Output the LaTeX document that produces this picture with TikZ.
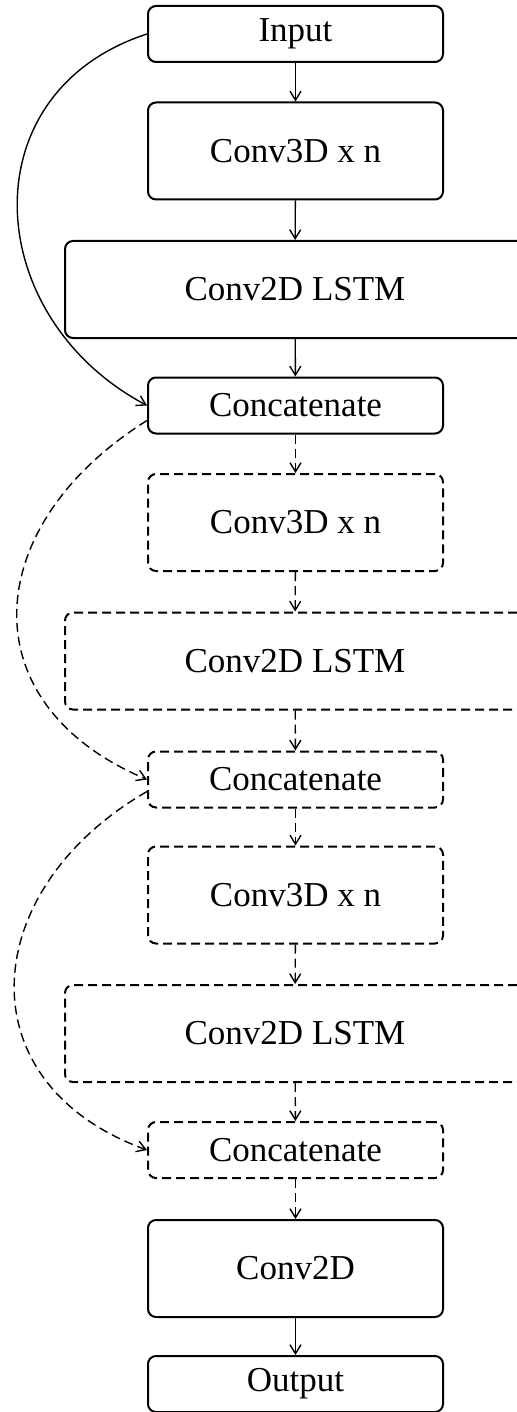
\documentclass[tikz,border=0pt]{standalone}
\usepackage{fontspec}
\setmainfont{Liberation Serif}
\usetikzlibrary{arrows.meta}

\begin{document}
\begin{tikzpicture}[x=0.5pt,y=0.5pt,>={Straight Barb[length=4.5pt,width=5.5pt]},line width=0.7pt,
	main node/.style={rectangle,rounded corners=4pt,draw,line width=1pt,inner sep=0pt,minimum width=147.5pt,minimum height=28pt,font=\fontsize{17.5}{20}\selectfont},
	tall node/.style={main node,minimum height=48.5pt},
	wide node/.style={tall node,minimum width=230pt},
	dash node/.style={dash pattern=on 4.5pt off 2.5pt}]
		
		\useasboundingbox (0,0) rectangle (517,-1412);
		
		\node[main node] at (295.5,-34) (input) {Input};
		\node[tall node] at (295.5,-151) (conv3a) {Conv3D x n};
		\node[wide node] at (295,-289.5) (lstma) {Conv2D LSTM};
		\node[main node] at (295.5,-405.5) (cata) {Concatenate};
		
		\node[tall node,dash node] at (295.5,-522.5) (conv3b) {Conv3D x n};
		\node[wide node,dash node] at (295,-661) (lstmb) {Conv2D LSTM};
		\node[main node,dash node] at (295.5,-779.5) (catb) {Concatenate};
		
		\node[tall node,dash node] at (295.5,-895) (conv3c) {Conv3D x n};
		\node[wide node,dash node] at (295,-1033.5) (lstmc) {Conv2D LSTM};
		\node[main node,dash node] at (295.5,-1150) (catc) {Concatenate};
		
		\node[tall node] at (295.5,-1268.5) (conv2) {Conv2D};
		\node[main node] at (295.5,-1384) (output) {Output};
		
		\path[->]
		(input) edge (conv3a)
		(conv3a) edge (lstma)
		(lstma) edge (cata)
		(cata) edge[dash node] (conv3b)
		(conv3b) edge[dash node] (lstmb)
		(lstmb) edge[dash node] (catb)
		(catb) edge[dash node] (conv3c)
		(conv3c) edge[dash node] (lstmc)
		(lstmc) edge[dash node] (catc)
		(catc) edge[dash node] (conv2)
		(conv2) edge (output)
		;
		
		% skip connections round the left side
		\draw[->] (input.west) to[out=198,in=152,looseness=1.3] (cata.west);
		\draw[->,dash node] ([yshift=-7.5pt]cata.west) to[out=212,in=157,looseness=1.4] (catb.west);
		\draw[->,dash node] ([yshift=-6pt]catb.west) to[out=210,in=160,looseness=1.4] (catc.west);
		
\end{tikzpicture}
\end{document}
